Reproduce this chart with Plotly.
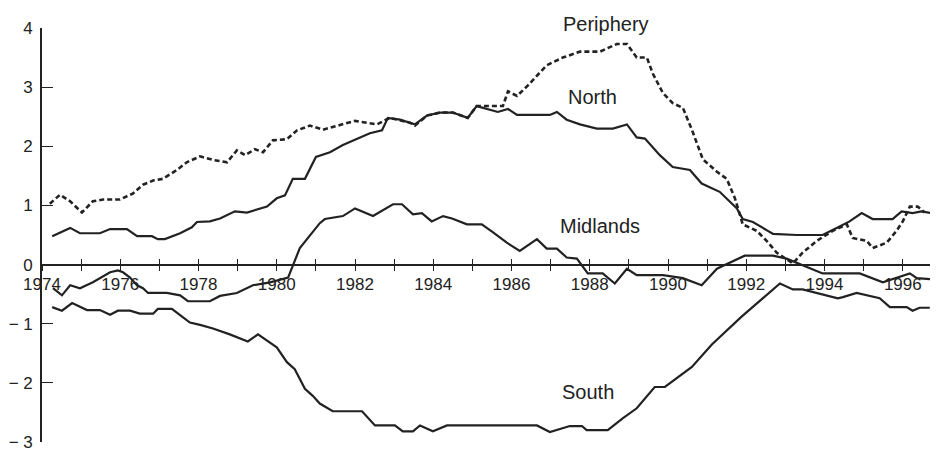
import plotly.graph_objects as go

# ---- data ----
north_x = [1974.26, 1974.72, 1974.97, 1975.48, 1975.74, 1976.17, 1976.43, 1976.81, 1976.96, 1977.14,
           1977.53, 1977.83, 1977.96, 1978.29, 1978.55, 1978.80, 1978.93, 1979.24, 1979.49, 1979.75,
           1980.00, 1980.21, 1980.41, 1980.72, 1981.00, 1981.36, 1981.69, 1982.05, 1982.38, 1982.69,
           1982.84, 1983.15, 1983.40, 1983.53, 1983.84, 1984.17, 1984.50, 1984.88, 1985.11, 1985.37,
           1985.65, 1985.91, 1986.14, 1986.54, 1986.98, 1987.16, 1987.41, 1987.75, 1988.18, 1988.59,
           1988.95, 1989.20, 1989.41, 1989.79, 1990.12, 1990.56, 1990.86, 1991.32, 1991.58, 1991.76,
           1991.91, 1992.17, 1992.55, 1992.68, 1993.29, 1993.95, 1994.31, 1994.64, 1994.95, 1995.23,
           1995.74, 1995.97, 1996.25, 1996.48, 1996.74]
north_y = [0.48, 0.62, 0.53, 0.53, 0.60, 0.60, 0.48, 0.48, 0.43, 0.43,
           0.53, 0.63, 0.72, 0.73, 0.78, 0.85, 0.90, 0.88, 0.93, 0.98,
           1.12, 1.17, 1.45, 1.45, 1.82, 1.90, 2.02, 2.12, 2.22, 2.27,
           2.48, 2.45, 2.40, 2.37, 2.52, 2.57, 2.57, 2.48, 2.68, 2.63,
           2.58, 2.63, 2.53, 2.53, 2.53, 2.58, 2.45, 2.37, 2.30, 2.30,
           2.37, 2.15, 2.13, 1.85, 1.65, 1.60, 1.37, 1.23, 1.07, 0.95,
           0.77, 0.72, 0.57, 0.52, 0.50, 0.50, 0.62, 0.73, 0.87, 0.77,
           0.77, 0.90, 0.87, 0.90, 0.87]

periphery_x = [1974.20, 1974.46, 1974.72, 1975.02, 1975.30, 1975.56, 1975.99, 1976.32, 1976.58, 1976.84,
               1977.09, 1977.45, 1977.70, 1978.04, 1978.37, 1978.73, 1978.98, 1979.19, 1979.44, 1979.65,
               1979.90, 1980.26, 1980.52, 1980.85, 1981.18, 1981.54, 1982.00, 1982.56, 1982.89, 1983.40,
               1983.53, 1983.84, 1984.17, 1984.50, 1984.88, 1985.11, 1985.78, 1985.91, 1986.14, 1986.42,
               1986.90, 1987.31, 1987.75, 1988.26, 1988.69, 1988.95, 1989.20, 1989.46, 1989.61, 1989.87,
               1990.12, 1990.38, 1990.61, 1990.89, 1991.25, 1991.50, 1991.71, 1991.91, 1992.27, 1992.52,
               1992.78, 1993.19, 1993.44, 1993.80, 1994.21, 1994.57, 1994.72, 1995.08, 1995.23, 1995.59,
               1995.84, 1996.00, 1996.18, 1996.38, 1996.56]
periphery_y = [1.03, 1.18, 1.07, 0.88, 1.07, 1.10, 1.10, 1.20, 1.35, 1.42,
               1.45, 1.60, 1.73, 1.83, 1.77, 1.73, 1.93, 1.85, 1.95, 1.90,
               2.10, 2.12, 2.27, 2.35, 2.28, 2.35, 2.43, 2.37, 2.48, 2.40,
               2.35, 2.52, 2.57, 2.57, 2.48, 2.68, 2.68, 2.93, 2.85, 3.03,
               3.37, 3.50, 3.60, 3.60, 3.73, 3.73, 3.50, 3.50, 3.23, 2.90,
               2.73, 2.65, 2.28, 1.78, 1.57, 1.45, 1.12, 0.68, 0.57, 0.40,
               0.20, 0.02, 0.20, 0.40, 0.57, 0.68, 0.45, 0.40, 0.28, 0.37,
               0.57, 0.73, 0.98, 0.98, 0.88]

midlands_x = [1974.28, 1974.51, 1974.72, 1974.97, 1975.30, 1975.74, 1975.94, 1976.07, 1976.25, 1976.43,
              1976.58, 1976.71, 1977.19, 1977.53, 1977.73, 1978.29, 1978.55, 1978.98, 1979.39, 1979.83,
              1980.29, 1980.59, 1981.10, 1981.23, 1981.69, 1982.00, 1982.46, 1982.97, 1983.20, 1983.48,
              1983.71, 1983.96, 1984.25, 1984.48, 1984.86, 1985.24, 1985.52, 1985.88, 1986.21, 1986.65,
              1986.90, 1987.16, 1987.41, 1987.67, 1987.95, 1988.33, 1988.64, 1988.95, 1989.20, 1989.87,
              1990.38, 1990.86, 1991.25, 1991.58, 1991.96, 1992.68, 1993.03, 1993.95, 1994.90, 1995.49,
              1996.18, 1996.36, 1996.74]
midlands_y = [-0.40, -0.52, -0.35, -0.40, -0.30, -0.13, -0.10, -0.13, -0.22, -0.35,
              -0.40, -0.48, -0.48, -0.52, -0.62, -0.62, -0.53, -0.48, -0.35, -0.30,
              -0.22, 0.28, 0.70, 0.77, 0.82, 0.95, 0.82, 1.02, 1.02, 0.85,
              0.87, 0.73, 0.82, 0.78, 0.68, 0.68, 0.55, 0.37, 0.23, 0.43,
              0.27, 0.27, 0.12, 0.10, -0.15, -0.15, -0.32, -0.07, -0.18, -0.18,
              -0.23, -0.35, -0.07, 0.03, 0.15, 0.15, 0.10, -0.15, -0.15, -0.30,
              -0.15, -0.23, -0.25]

south_x = [1974.26, 1974.51, 1974.77, 1975.15, 1975.48, 1975.74, 1975.94, 1976.25, 1976.50, 1976.84,
           1976.96, 1977.32, 1977.58, 1977.78, 1978.04, 1978.37, 1978.80, 1979.26, 1979.52, 1980.00,
           1980.26, 1980.46, 1980.72, 1980.92, 1981.10, 1981.43, 1982.18, 1982.51, 1983.02, 1983.22,
           1983.48, 1983.66, 1983.99, 1984.35, 1986.65, 1986.98, 1987.49, 1987.80, 1987.92, 1988.46,
           1988.84, 1989.20, 1989.66, 1989.92, 1990.61, 1991.12, 1991.88, 1992.86, 1993.19, 1993.44,
           1994.34, 1994.47, 1994.82, 1995.41, 1995.67, 1996.10, 1996.25, 1996.43, 1996.69]
south_y = [-0.72, -0.78, -0.65, -0.77, -0.77, -0.85, -0.78, -0.78, -0.83, -0.83,
           -0.75, -0.75, -0.88, -0.98, -1.02, -1.08, -1.18, -1.30, -1.18, -1.40,
           -1.65, -1.77, -2.10, -2.22, -2.35, -2.48, -2.48, -2.72, -2.72, -2.82,
           -2.82, -2.72, -2.82, -2.72, -2.72, -2.83, -2.73, -2.73, -2.80, -2.80,
           -2.60, -2.43, -2.07, -2.07, -1.73, -1.35, -0.88, -0.32, -0.42, -0.42,
           -0.57, -0.55, -0.48, -0.57, -0.72, -0.72, -0.78, -0.73, -0.73]

year_ticks = list(range(1974, 1997))
year_labels = [str(y) if y % 2 == 0 else "" for y in year_ticks]
y_ticks = [-3, -2, -1, 0, 1, 2, 3, 4]
y_labels = ["− 3", "− 2", "− 1", "0", "1", "2", "3", "4"]

series_labels = ["Periphery", "North", "Midlands", "South"]
label_x = [1988.41, 1988.08, 1988.26, 1987.95]
label_y = [4.07, 2.83, 0.65, -2.15]

INK = "#222222"
FONT = "Arial, Liberation Sans, Helvetica, sans-serif"
Y_RANGE = [-3, 4]

fig = go.Figure()
fig.add_trace(go.Scatter(x=periphery_x, y=periphery_y, mode="lines",
                         line=dict(color=INK, width=2.6, dash="5px,3px"), name="Periphery"))
fig.add_trace(go.Scatter(x=north_x, y=north_y, mode="lines",
                         line=dict(color=INK, width=2.2), name="North"))
fig.add_trace(go.Scatter(x=midlands_x, y=midlands_y, mode="lines",
                         line=dict(color=INK, width=2.2), name="Midlands"))
fig.add_trace(go.Scatter(x=south_x, y=south_y, mode="lines",
                         line=dict(color=INK, width=2.2), name="South"))
# empty trace to activate the overlay x-axis (inner half of crossing ticks)
fig.add_trace(go.Scatter(x=[], y=[], xaxis="x2", showlegend=False))

span = Y_RANGE[1] - Y_RANGE[0]
for t, lx, ly in zip(series_labels, label_x, label_y):
    fig.add_annotation(x=lx, xref="x", y=(ly - Y_RANGE[0]) / span, yref="paper",
                       xanchor="center", yanchor="middle",
                       text=t, showarrow=False,
                       font=dict(family=FONT, size=20, color=INK))

xr = [1974, 1996.9]
# page body has an 8px default margin; figure is sized so the plot area lands at x 42..938, y 28..448
fig.update_layout(
    width=930, height=444,
    margin=dict(l=34, r=0, t=20, b=4),
    paper_bgcolor="white", plot_bgcolor="white",
    showlegend=False,
    font=dict(family=FONT, color=INK, size=17),
    xaxis=dict(range=xr, anchor="free", position=(0 - Y_RANGE[0]) / span,
               tickmode="array", tickvals=year_ticks, ticktext=year_labels,
               ticks="outside", ticklen=6, tickwidth=1.3, tickcolor=INK,
               showline=True, linecolor=INK, linewidth=1.6,
               showgrid=False, zeroline=False, ticklabelstandoff=-2,
               tickfont=dict(family=FONT, size=17, color=INK)),
    xaxis2=dict(range=xr, overlaying="x", matches="x", anchor="free",
                position=(0 - Y_RANGE[0]) / span,
                tickmode="array", tickvals=year_ticks, ticks="inside", ticklen=6,
                tickwidth=1.3, tickcolor=INK, showticklabels=False,
                showline=False, showgrid=False, zeroline=False),
    yaxis=dict(range=Y_RANGE, tickmode="array", tickvals=y_ticks, ticktext=y_labels,
               ticks="inside", ticklen=11, tickwidth=1.3, tickcolor=INK,
               showline=True, linecolor=INK, linewidth=1.6,
               showgrid=False, zeroline=False, ticklabelstandoff=4,
               ticklabeloverflow="allow",
               tickfont=dict(family=FONT, size=17, color=INK)),
)

fig.write_html("out.html")
